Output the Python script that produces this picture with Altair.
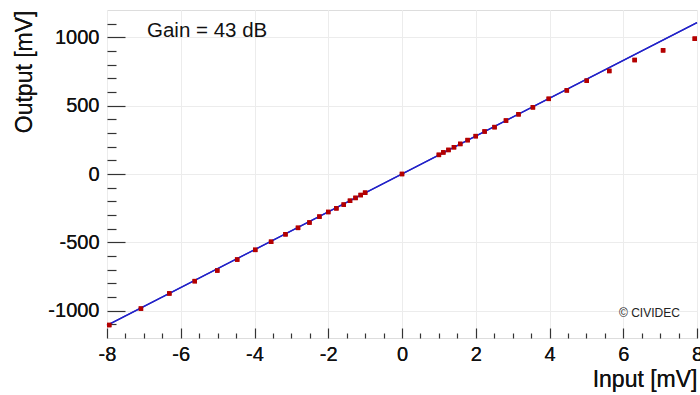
import altair as alt
import pandas as pd

# Measured amplifier transfer curve (input in mV, output in mV)
input_mv = [-7.94, -7.08, -6.31, -5.62, -5.01, -4.47, -3.98, -3.55, -3.16, -2.82,
            -2.51, -2.24, -2.00, -1.78, -1.58, -1.41, -1.26, -1.12, -1.00, 0.0,
            1.00, 1.12, 1.26, 1.41, 1.58, 1.78, 2.00, 2.24, 2.51, 2.82,
            3.16, 3.55, 3.98, 4.47, 5.01, 5.62, 6.31, 7.08, 7.94]
output_mv = [-1105, -985, -874, -784, -706, -626, -555, -496, -441, -394,
             -355, -312, -278, -251, -224, -196, -175, -154, -137, 0,
             140, 158, 176, 196, 220, 248, 277, 311, 343, 391,
             437, 488, 550, 612, 683, 754, 834, 905, 990]

# Linear fit drawn across the full input range
fit_x = [-8, 8]
fit_y = [-1108, 1108]

# Axis tick positions
x_major = [-8, -6, -4, -2, 0, 2, 4, 6, 8]
x_minor = [v / 2 for v in range(-16, 17) if v % 4 != 0]
y_major = [-1000, -500, 0, 500, 1000]
y_minor = [v for v in range(-1100, 1200, 100) if v % 500 != 0]

W, H = 590, 328
FONT = "Liberation Sans"
PLAIN = "'' + datum.value"  # plain integers with ASCII minus, no thousands separator

pts = pd.DataFrame({"x": input_mv, "y": output_mv})
fit = pd.DataFrame({"x": fit_x, "y": fit_y})

xs = alt.Scale(domain=[-8, 8], nice=False, zero=False)
ys = alt.Scale(domain=[-1200, 1200], nice=False, zero=False)

# Main axes: labels, titles and grid, no ticks
main_x = alt.Axis(values=x_major, ticks=False, tickSize=0, domain=False, grid=True,
                  gridColor="#ececec", labelFont=FONT, labelFontSize=20, labelColor="#111",
                  labelPadding=6, labelFlush=False, labelExpr=PLAIN,
                  title="Input [mV]", titleFont=FONT,
                  titleFontSize=23, titleFontWeight="normal", titleColor="#111",
                  titleAlign="right", titleAnchor="end", titleX=W, titleY=48,
                  titleBaseline="alphabetic")
main_y = alt.Axis(values=y_major, ticks=False, tickSize=0, domain=False, grid=True,
                  gridColor="#ececec", labelFont=FONT, labelFontSize=20, labelColor="#111",
                  labelPadding=8, labelFlush=False, labelExpr=PLAIN,
                  title="Output [mV]", titleFont=FONT,
                  titleFontSize=23, titleFontWeight="normal", titleColor="#111",
                  titleAngle=-90, titleAlign="right", titleX=-76, titleY=0,
                  titleBaseline="alphabetic")

points = alt.Chart(pts).mark_square(size=20, color="#b40000", opacity=1).encode(
    x=alt.X("x:Q", scale=xs, axis=main_x),
    y=alt.Y("y:Q", scale=ys, axis=main_y),
)

line = alt.Chart(fit).mark_line(color="#2222c8", strokeWidth=1.3).encode(
    x=alt.X("x:Q", scale=xs, axis=None),
    y=alt.Y("y:Q", scale=ys, axis=None),
)


def tick_layer(xvals, yvals, xlen, ylen):
    # Inward-pointing ticks: axes placed on the opposite side and shifted onto the frame
    ax = alt.Axis(orient="top", offset=-H, values=xvals, labels=False, domain=False,
                  grid=False, tickSize=xlen, tickColor="#333", tickWidth=1.2, title=None)
    ay = alt.Axis(orient="right", offset=-W, values=yvals, labels=False, domain=False,
                  grid=False, tickSize=ylen, tickColor="#333", tickWidth=1.2, title=None)
    return alt.Chart(fit).mark_point(opacity=0).encode(
        x=alt.X("x:Q", scale=xs, axis=ax),
        y=alt.Y("y:Q", scale=ys, axis=ay),
    )


gain = alt.Chart(pd.DataFrame({"t": ["Gain = 43 dB"]})).mark_text(
    font=FONT, fontSize=20.5, color="#111", align="left", baseline="alphabetic"
).encode(text="t:N", x=alt.value(40), y=alt.value(27))

credit = alt.Chart(pd.DataFrame({"t": ["© CIVIDEC"]})).mark_text(
    font=FONT, fontSize=12, color="#222", align="left", baseline="alphabetic"
).encode(text="t:N", x=alt.value(512), y=alt.value(307))

chart = alt.layer(
    points, line, tick_layer(x_major, y_major, 10, 18), tick_layer(x_minor, y_minor, 5, 9),
    line, points, gain, credit
).resolve_axis(x="independent", y="independent").properties(
    width=W, height=H,
    autosize=alt.AutoSizeParams(type="none"),
    padding={"left": 107, "top": 10, "right": 3, "bottom": 57},
).configure_view(stroke="#333", strokeWidth=1.5).configure(background="white")

chart.save("out.html", embed_options={"renderer": "svg", "actions": False})
